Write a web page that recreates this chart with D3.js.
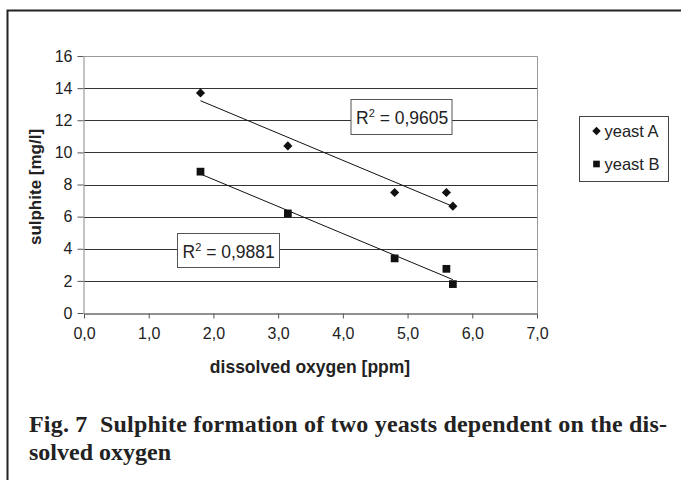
<!DOCTYPE html>
<html lang="en">
<head>
<meta charset="utf-8">
<style>
html, body {
    margin: 0;
    padding: 0;
    background: #fff;
}
svg {
    display: block;
    width: 681px;
    height: 480px;
}
</style>
</head>
<body>
<svg></svg>

<script src="https://cdn.jsdelivr.net/npm/d3@7/dist/d3.min.js"></script>
<script>
// sulphite vs dissolved oxygen, two yeasts + linear trend lines

var oxygenA = [1.8, 3.15, 4.8, 5.6, 5.7];
var sulphiteA = [13.7, 10.4, 7.5, 7.5, 6.65];

var oxygenB = [1.8, 3.15, 4.8, 5.6, 5.7];
var sulphiteB = [8.8, 6.2, 3.4, 2.75, 1.8];

var seriesNames = ["yeast A", "yeast B"];
var r2Labels = ["0,9605", "0,9881"];

var xTicks = [0, 1, 2, 3, 4, 5, 6, 7];
var yTicks = [0, 2, 4, 6, 8, 10, 12, 14, 16];

var svg = d3.select("svg");

var plot = {left: 84, top: 56, right: 537, bottom: 313};

var x = d3.scaleLinear().domain([0, 7]).range([plot.left, plot.right]);
var y = d3.scaleLinear().domain([0, 16]).range([plot.bottom, plot.top]);

var fmt = function(d){ return d3.format(".1f")(d).replace(".", ","); };

// marker shapes: diamond = square turned 45deg
function marker(sel, kind, size) {
    sel.attr("d", d3.symbol().type(d3.symbolSquare).size(size))
        .attr("fill", "#111");
    if (kind === "diamond") {
        sel.attr("transform", function(){ return d3.select(this).attr("transform") + " rotate(45)"; });
    }
}

// outer frame (open at right/bottom)
svg.append("path")
    .attr("d", "M7.5,482 L7.5,10.5 L690,10.5")
    .attr("fill", "none")
    .attr("stroke", "#222")
    .attr("stroke-width", 2);

// gridlines
svg.append("g")
    .selectAll("line")
    .data(yTicks.filter(function(d){ return d > 0 && d < 16; }))
    .join("line")
    .attr("x1", plot.left).attr("x2", plot.right)
    .attr("y1", function(d){ return Math.round(y(d)) + 0.5; })
    .attr("y2", function(d){ return Math.round(y(d)) + 0.5; })
    .attr("stroke", "#333");

// plot border top + right
svg.append("path")
    .attr("d", "M" + plot.left + "," + (plot.top + 0.5) + " L" + (plot.right + 0.5) + "," + (plot.top + 0.5) + " L" + (plot.right + 0.5) + "," + plot.bottom)
    .attr("fill", "none")
    .attr("stroke", "#999");

// axes
var xAxis = svg.append("g")
    .attr("transform", "translate(0," + (plot.bottom + 0.5) + ")")
    .call(d3.axisBottom(x).tickValues(xTicks).tickFormat(fmt).tickSize(5).tickSizeOuter(0));
xAxis.select(".domain").attr("stroke", "#222");
xAxis.selectAll(".tick line").attr("stroke", "#555");
xAxis.selectAll("text")
    .attr("font-family", "Liberation Sans, Arial, sans-serif")
    .attr("font-size", 16)
    .attr("fill", "#222")
    .attr("dy", "1.1em");

var yAxis = svg.append("g")
    .attr("transform", "translate(" + (plot.left - 0.5) + ",0)")
    .call(d3.axisLeft(y).tickValues(yTicks).tickSize(6).tickSizeOuter(0));
yAxis.select(".domain").attr("stroke", "#888");
yAxis.selectAll(".tick line").attr("stroke", "#555");
yAxis.selectAll("text")
    .attr("font-family", "Liberation Sans, Arial, sans-serif")
    .attr("font-size", 16)
    .attr("fill", "#222")
    .attr("x", -11);

// axis titles
svg.append("text")
    .attr("x", 310).attr("y", 373)
    .attr("text-anchor", "middle")
    .attr("font-family", "Liberation Sans, Arial, sans-serif")
    .attr("font-weight", "bold")
    .attr("font-size", 17.5)
    .attr("fill", "#222")
    .text("dissolved oxygen [ppm]");

svg.append("text")
    .attr("transform", "translate(41,187) rotate(-90)")
    .attr("text-anchor", "middle")
    .attr("font-family", "Liberation Sans, Arial, sans-serif")
    .attr("font-weight", "bold")
    .attr("font-size", 17)
    .attr("fill", "#222")
    .text("sulphite [mg/l]");

// trend lines (least squares)
function fit(xs, ys) {
    var mx = d3.mean(xs), my = d3.mean(ys);
    var sxy = d3.sum(xs, function(v, i){ return (v - mx) * (ys[i] - my); });
    var sxx = d3.sum(xs, function(v){ return (v - mx) * (v - mx); });
    var b = sxy / sxx;
    return function(v){ return my + b * (v - mx); };
}

var series = [
    {xs: oxygenA, ys: sulphiteA, kind: "diamond", size: 42},
    {xs: oxygenB, ys: sulphiteB, kind: "square", size: 60}
];

var genLine = d3.line()
    .x(function(d){ return x(d[0]); })
    .y(function(d){ return y(d[1]); });

series.forEach(function(s){
    var f = fit(s.xs, s.ys);
    var ext = d3.extent(s.xs);
    svg.append("path")
        .attr("d", genLine(ext.map(function(v){ return [v, f(v)]; })))
        .attr("fill", "none")
        .attr("stroke", "#111")
        .attr("stroke-width", 1);

    svg.append("g")
        .selectAll("path")
        .data(s.xs.map(function(v, i){ return [v, s.ys[i]]; }))
        .join("path")
        .attr("transform", function(d){ return "translate(" + x(d[0]) + "," + y(d[1]) + ")"; })
        .call(marker, s.kind, s.size);
});

// R² boxes
var r2Boxes = [
    {x: 351, y: 99.5, w: 101, h: 35, label: r2Labels[0]},
    {x: 177.5, y: 233.5, w: 102, h: 34, label: r2Labels[1]}
];
r2Boxes.forEach(function(b){
    svg.append("rect")
        .attr("x", b.x).attr("y", b.y)
        .attr("width", b.w).attr("height", b.h)
        .attr("fill", "#fff")
        .attr("stroke", "#555");
    var t = svg.append("text")
        .attr("x", b.x + 5).attr("y", b.y + b.h / 2 + 7)
        .attr("font-family", "Liberation Sans, Arial, sans-serif")
        .attr("font-size", 17.5)
        .attr("fill", "#222");
    t.append("tspan").text("R");
    t.append("tspan").attr("dy", -7).attr("font-size", 11).text("2");
    t.append("tspan").attr("dy", 7).text(" = " + b.label);
});

// legend
var legend = svg.append("g").attr("transform", "translate(579.5,116.5)");
legend.append("rect")
    .attr("width", 89).attr("height", 65)
    .attr("fill", "#fff")
    .attr("stroke", "#444");
legend.selectAll("g")
    .data(seriesNames)
    .join("g")
    .attr("transform", function(d, i){ return "translate(0," + (14.5 + i * 33) + ")"; })
    .each(function(d, i){
        var g = d3.select(this);
        g.append("path")
            .attr("transform", "translate(17,0)")
            .call(marker, series[i].kind, i === 0 ? 36 : 44);
        g.append("text")
            .attr("x", 25).attr("y", 6)
            .attr("font-family", "Liberation Sans, Arial, sans-serif")
            .attr("font-size", 16.5)
            .attr("fill", "#222")
            .text(d);
    });

// caption
var cap = svg.append("g")
    .attr("font-family", "Liberation Serif, Times New Roman, serif")
    .attr("font-weight", "bold")
    .attr("font-size", 24)
    .attr("fill", "#222");
cap.append("text")
    .attr("x", 29).attr("y", 432)
    .attr("textLength", 638)
    .attr("lengthAdjust", "spacing")
    .attr("xml:space", "preserve")
    .text("Fig. 7  Sulphite formation of two yeasts dependent on the dis-");
cap.append("text")
    .attr("x", 29).attr("y", 460)
    .text("solved oxygen");
</script>
</body>
</html>
